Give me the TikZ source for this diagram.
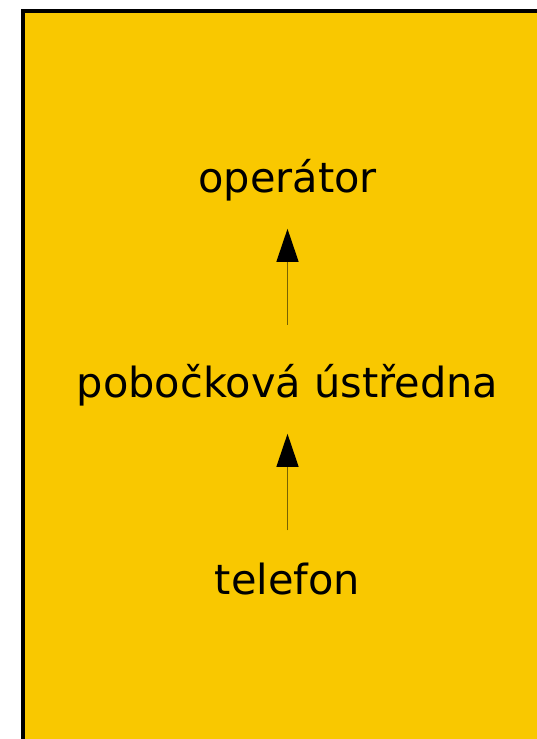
\documentclass[tikz,border=0pt]{standalone}
\usepackage{fontspec}
\setmainfont{DejaVu Sans}
\usetikzlibrary{arrows.meta}
\definecolor{boxfill}{RGB}{249,200,0}
\definecolor{lineolive}{RGB}{120,98,0}
\tikzset{
  lbl/.style={inner sep=0pt, anchor=base, font=\fontsize{41.5bp}{48bp}\selectfont},
  conn/.style={draw=lineolive, line width=1.3bp,
    -{Triangle[width=22bp,length=33bp,color=black]}}
}
\begin{document}
\begin{tikzpicture}[x=1bp,y=1bp]
\useasboundingbox (0,0) rectangle (537,739);
\clip (0,0) rectangle (537,739);
\draw[fill=boxfill, line width=4bp] (23,728) rectangle (580,-40);
\node[lbl] (operator) at (287.5,546) {operátor};
\node[lbl] (pbx) at (287.5,341) {pobočková ústředna};
\node[lbl] (phone) at (287.5,144) {telefon};
\draw[conn, shorten <=33bp, shorten >=27bp] (phone.north) -- (pbx.south);
\draw[conn, shorten <=40bp, shorten >=27bp] (pbx.north) -- (operator.south);
\end{tikzpicture}
\end{document}
